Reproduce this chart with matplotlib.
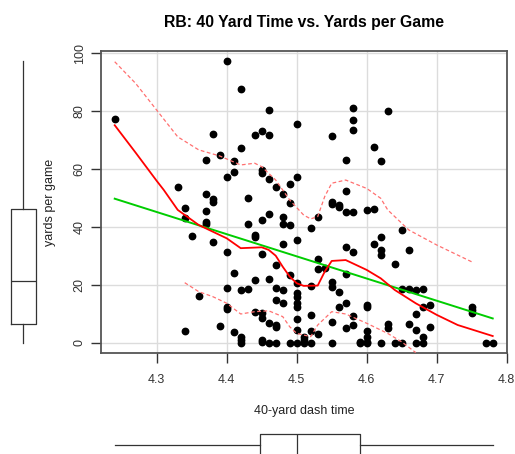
import numpy as np
import matplotlib
matplotlib.use("Agg")
from matplotlib import pyplot as plt

plt.rcParams['font.family'] = ['Liberation Sans', 'DejaVu Sans']

# 40-yard dash time / yards per game
dash_time = [
    4.24, 4.40, 4.42, 4.46, 4.50, 4.38, 4.44, 4.45, 4.46, 4.42,
    4.39, 4.37, 4.41, 4.40, 4.41, 4.45, 4.45, 4.46, 4.50, 4.49,
    4.47, 4.48, 4.33, 4.37, 4.38, 4.43,
    4.58, 4.63, 4.58, 4.58, 4.55, 4.61, 4.57, 4.62, 4.57,
    4.38, 4.49, 4.34, 4.34, 4.37, 4.37, 4.37, 4.46, 4.45, 4.48,
    4.48, 4.49, 4.43, 4.52, 4.44, 4.44, 4.35, 4.38, 4.48, 4.50,
    4.40, 4.45, 4.47, 4.41, 4.49, 4.44, 4.46, 4.50, 4.52, 4.40,
    4.42, 4.43, 4.47, 4.48, 4.36, 4.50, 4.50, 4.47, 4.48, 4.50,
    4.50, 4.40, 4.40, 4.44, 4.45, 4.45, 4.52, 4.50, 4.46, 4.47,
    4.47, 4.39, 4.50, 4.34, 4.41, 4.42, 4.42, 4.42, 4.45, 4.45,
    4.46, 4.47, 4.49, 4.50, 4.51, 4.51, 4.51, 4.52,
    4.55, 4.55, 4.56, 4.56, 4.57, 4.58, 4.60, 4.61, 4.53, 4.65,
    4.62, 4.61, 4.62, 4.62, 4.57, 4.58, 4.66, 4.64, 4.53, 4.53,
    4.54, 4.57, 4.55, 4.55, 4.56, 4.65, 4.66, 4.67, 4.68, 4.68,
    4.69, 4.57, 4.56, 4.60, 4.60, 4.55, 4.58, 4.57, 4.58, 4.60,
    4.60, 4.63, 4.63, 4.66, 4.67, 4.67, 4.69, 4.52, 4.53, 4.55,
    4.59, 4.59, 4.60, 4.60, 4.62, 4.64, 4.65, 4.67, 4.68, 4.68,
    4.75, 4.75, 4.75, 4.77, 4.78,
]
yards_pg = [
    77.3, 97.1, 87.7, 80.4, 75.4, 72.2, 71.6, 73.2, 71.6, 67.2,
    64.8, 63.1, 62.9, 57.2, 58.9, 59.7, 58.5, 56.4, 57.3, 54.8,
    53.9, 51.3, 53.9, 51.5, 49.7, 50.1,
    80.9, 79.9, 76.9, 73.4, 71.5, 67.6, 63.0, 62.8, 52.4,
    48.5, 48.4, 46.4, 43.2, 45.5, 41.6, 40.9, 44.6, 42.3, 43.3,
    41.1, 40.7, 40.9, 39.8, 37.2, 36.6, 36.8, 34.7, 34.2, 35.4,
    31.4, 30.6, 26.9, 24.1, 23.6, 21.6, 22.2, 20.6, 19.7, 19.1,
    18.3, 18.7, 19.0, 18.3, 16.3, 17.3, 16.0, 14.7, 13.7, 13.7,
    12.3, 12.5, 11.6, 10.8, 10.4, 8.7, 9.7, 8.2, 6.8, 6.2,
    5.4, 5.9, 4.5, 4.2, 3.9, 2.1, 1.0, 0.1, 1.0, 0.2,
    0.0, 0.0, 0.0, 0.0, 2.1, 1.0, 0.0, 0.0,
    48.6, 47.8, 47.6, 46.8, 45.3, 45.3, 46.0, 46.1, 43.6, 39.0,
    36.7, 34.0, 32.0, 30.2, 33.0, 31.5, 32.1, 27.1, 28.9, 25.4,
    25.8, 23.8, 21.1, 19.2, 17.6, 18.7, 18.7, 18.4, 18.5, 12.4,
    13.0, 13.7, 12.4, 13.0, 12.3, 7.2, 9.3, 5.3, 6.1, 4.0,
    2.2, 6.6, 5.1, 6.6, 10.0, 4.5, 5.5, 4.2, 3.0, 0.0,
    0.5, 0.0, 0.5, 0.0, 0.0, 0.0, 0.0, 0.0, 0.0, 2.2,
    12.3, 11.4, 10.2, 0.0, 0.0,
]

# smoother and spread curves
smooth_x = [4.24, 4.27, 4.30, 4.31, 4.33, 4.36, 4.38, 4.40, 4.42, 4.45, 4.46, 4.47,
            4.48, 4.49, 4.50, 4.51, 4.53, 4.54, 4.55, 4.57, 4.60, 4.62, 4.64, 4.67,
            4.70, 4.73, 4.78]
smooth_y = [75.1, 65.6, 55.9, 52.8, 45.9, 40.7, 38.4, 36.1, 32.7, 33.0, 32.1, 30.1,
            26.3, 22.9, 20.6, 19.7, 19.8, 24.6, 28.3, 28.6, 25.2, 22.3, 18.3, 13.7,
            9.7, 6.2, 2.4]
upper_x = [4.24, 4.27, 4.30, 4.33, 4.36, 4.39, 4.42, 4.44, 4.45, 4.47, 4.49, 4.51,
           4.52, 4.53, 4.54, 4.55, 4.57, 4.60, 4.62, 4.63, 4.66, 4.70, 4.75]
upper_y = [97.0, 89.5, 80.3, 71.1, 66.6, 64.5, 61.4, 62.0, 60.8, 56.2, 49.3, 44.1,
           42.8, 43.6, 50.5, 55.1, 56.2, 53.3, 49.9, 45.9, 39.0, 33.8, 28.0]
lower_x = [4.34, 4.36, 4.38, 4.40, 4.42, 4.44, 4.46, 4.48, 4.49, 4.50, 4.52, 4.53,
           4.55, 4.57, 4.60, 4.63, 4.65, 4.67]
lower_y = [20.8, 17.7, 16.0, 13.7, 10.0, 10.8, 11.1, 9.1, 5.6, 3.3, 2.2, 6.2,
           10.8, 10.0, 6.8, 3.3, 0.4, -3.3]

W, H = 515, 454
fig = plt.figure(figsize=(W / 100, H / 100), dpi=100)

xlim = (4.2204, 4.8004)
ylim = (-3.45, 100.7)
frame_col = "#555555"

ax = fig.add_axes([101 / W, 1 - 353 / H, 406 / W, 302 / H])
ax.set_xlim(*xlim)
ax.set_ylim(*ylim)
ax.set_xticks([4.3, 4.4, 4.5, 4.6, 4.7, 4.8])
ax.set_yticks([0, 20, 40, 60, 80, 100])
ax.grid(True, color="#dcdcdc", lw=1)
ax.set_axisbelow(True)
for s in ax.spines.values():
    s.set_color(frame_col)
    s.set_linewidth(1.3)
ax.tick_params(colors="#333333", labelcolor="#333333", length=7, width=1, labelsize=9)
ax.tick_params(axis="x", pad=8)
ax.tick_params(axis="y", pad=4)
for lab in ax.get_yticklabels():
    lab.set_rotation(90)
    lab.set_va("center")

ax.plot(dash_time, yards_pg, "o", color="black", ms=4.6, zorder=3)

# least squares line
b, a = np.polyfit(dash_time, yards_pg, 1)
xs = np.array([min(dash_time), max(dash_time)])
ax.plot(xs, a + b * xs, color="#00cd00", lw=1.4, zorder=4)

ax.plot(smooth_x, smooth_y, color="red", lw=1.3, zorder=4)
ax.plot(upper_x, upper_y, color="#ff7070", lw=0.9, ls=(0, (3, 2)), zorder=4)
ax.plot(lower_x, lower_y, color="#ff7070", lw=0.9, ls=(0, (3, 2)), zorder=4)

ax.set_title("RB: 40 Yard Time vs. Yards per Game", fontsize=11.3, fontweight="bold", pad=17)
ax.set_xlabel("40-yard dash time", fontsize=9, labelpad=14, color="#222222")
ax.set_ylabel("yards per game", fontsize=9, labelpad=13, color="#222222")

box_style = dict(patch_artist=False, showcaps=False, showfliers=True,
                 boxprops=dict(color="#333333", lw=0.9),
                 whiskerprops=dict(color="#333333", lw=0.9),
                 medianprops=dict(color="#333333", lw=0.9))

# marginal box for y
axl = fig.add_axes([0, 1 - 353 / H, 47 / W, 302 / H])
axl.boxplot(yards_pg, positions=[23.3], widths=25, **box_style)
axl.set_xlim(0, 47)
axl.set_ylim(*ylim)
axl.axis("off")

# marginal box for x
axb = fig.add_axes([101 / W, 0, 406 / W, 30 / H])
axb.boxplot(dash_time, positions=[9], widths=22, orientation="horizontal", **box_style)
axb.set_ylim(0, 30)
axb.set_xlim(*xlim)
axb.axis("off")

fig.savefig("out.png", dpi=100)
